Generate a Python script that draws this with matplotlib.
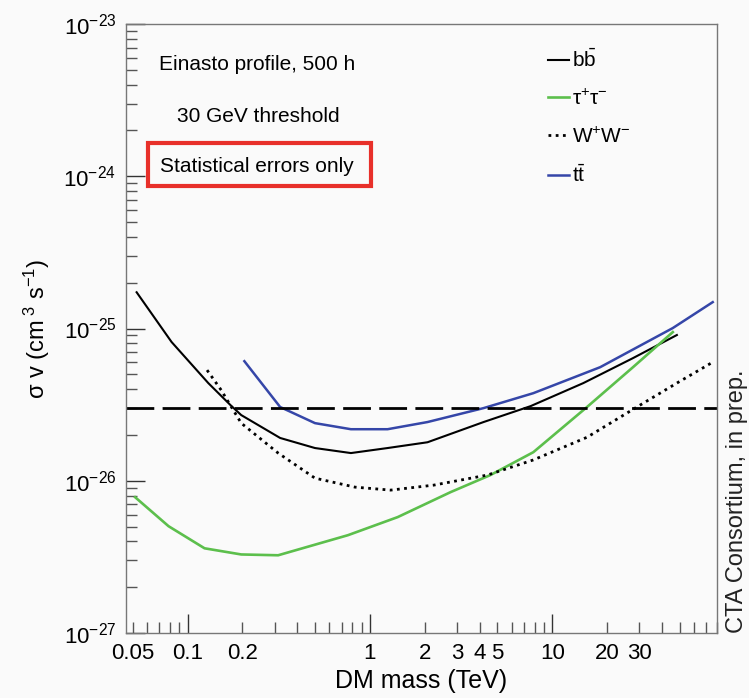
import matplotlib
matplotlib.use("Agg")
import matplotlib.pyplot as plt
from matplotlib.ticker import FixedLocator, FuncFormatter, NullFormatter, LogFormatterSciNotation
from matplotlib.patches import Rectangle

plt.rcParams['font.family'] = ['Liberation Sans', 'DejaVu Sans']
plt.rcParams['mathtext.fontset'] = 'custom'
plt.rcParams['mathtext.rm'] = 'Liberation Sans'
plt.rcParams['mathtext.it'] = 'Liberation Sans'
plt.rcParams['mathtext.bf'] = 'Liberation Sans:bold'

# DM mass (TeV) and <sigma v> upper limits (cm^3 s^-1)
bb_mass = [0.0526, 0.0818, 0.130, 0.172, 0.197, 0.322, 0.500, 0.787, 1.25, 2.07, 4.2, 7.6, 14.8, 27.7, 48.2]
bb_sv = [1.73e-25, 8.15e-26, 4.38e-26, 3.14e-26, 2.70e-26, 1.91e-26, 1.64e-26, 1.52e-26, 1.64e-26,
         1.79e-26, 2.43e-26, 3.09e-26, 4.38e-26, 6.39e-26, 9.06e-26]

tau_mass = [0.0516, 0.0787, 0.124, 0.197, 0.314, 0.758, 1.42, 2.77, 4.58, 7.87, 15.5, 27.7, 45.8]
tau_sv = [7.8e-27, 5.03e-27, 3.6e-27, 3.28e-27, 3.24e-27, 4.39e-27, 5.77e-27, 8.42e-27, 1.09e-26,
          1.54e-26, 3.05e-26, 5.57e-26, 9.47e-26]

ww_mass = [0.128, 0.153, 0.174, 0.197, 0.314, 0.500, 0.828, 1.30, 2.24, 4.41, 7.87, 15.5, 30.3, 48.2, 75.8]
ww_sv = [5.33e-26, 3.94e-26, 3.05e-26, 2.39e-26, 1.52e-26, 1.04e-26, 9.08e-27, 8.68e-27, 9.36e-27,
         1.09e-26, 1.37e-26, 1.93e-26, 3.14e-26, 4.38e-26, 6.01e-26]

tt_mass = [0.205, 0.322, 0.500, 0.787, 1.25, 2.07, 4.2, 7.87, 18.3, 45.8, 75.8]
tt_sv = [6.1e-26, 3.05e-26, 2.39e-26, 2.18e-26, 2.18e-26, 2.43e-26, 3.0e-26, 3.76e-26, 5.57e-26,
         1.007e-25, 1.49e-25]

thermal_sv = 3e-26

xtick_labels = {0.05: '0.05', 0.1: '0.1', 0.2: '0.2', 1: '1', 2: '2', 3: '3', 4: '4', 5: '5',
                10: '10', 20: '20', 30: '30'}
y_decades = [1e-27, 1e-26, 1e-25, 1e-24, 1e-23]

fig = plt.figure(figsize=(7.49, 6.98), dpi=100, facecolor='#fafafa')
ax = fig.add_axes([126/749, 1 - 633/698, (717-126)/749, (633-24)/698])
ax.set_facecolor('#fafafa')

ax.plot(bb_mass, bb_sv, color='black', lw=1.5, label=r'$\mathrm{b\bar{b}}$')
ax.plot(tau_mass, tau_sv, color='#5cbf4c', lw=1.9, label=r'$\mathrm{\tau^{+}\tau^{-}}$')
ax.plot(ww_mass, ww_sv, color='black', lw=2.0, ls=(0, (1, 1.6)), label=r'$\mathrm{W^{+}W^{-}}$')
ax.plot(tt_mass, tt_sv, color='#3546a8', lw=1.8, label=r'$\mathrm{t\bar{t}}$')
ax.axhline(thermal_sv, color='black', lw=2.0, ls=(0, (10, 3)))

ax.set_xscale('log')
ax.set_yscale('log')
ax.set_xlim(0.046, 80)
ax.set_ylim(1e-27, 1e-23)

def xfmt(v, pos):
    for k, s in xtick_labels.items():
        if abs(v - k) < 1e-6 * k:
            return s
    return ''

x_minor = [m * d for d in (0.01, 0.1, 1, 10) for m in range(2, 10) if 0.046 <= m * d <= 80]
y_minor = [m * d for d in y_decades[:-1] for m in range(2, 10)]

ax.xaxis.set_major_locator(FixedLocator([0.1, 1, 10]))
ax.xaxis.set_minor_locator(FixedLocator(x_minor))
ax.xaxis.set_major_formatter(FuncFormatter(xfmt))
ax.xaxis.set_minor_formatter(FuncFormatter(xfmt))
ax.yaxis.set_major_locator(FixedLocator(y_decades))
ax.yaxis.set_major_formatter(LogFormatterSciNotation())
ax.yaxis.set_minor_locator(FixedLocator(y_minor))
ax.yaxis.set_minor_formatter(NullFormatter())

for axis in (ax.xaxis, ax.yaxis):
    axis.set_tick_params(which='major', direction='in', length=14, width=1, color='#333333',
                         labelsize=16, pad=7)
    axis.set_tick_params(which='minor', direction='in', length=8, width=1, color='#555555',
                         labelsize=16, pad=7)
ax.tick_params(top=False, right=False, which='both')

for sp in ax.spines.values():
    sp.set_color('#777777')
    sp.set_linewidth(1.0)

ax.set_xlabel('DM mass (TeV)', fontsize=18, labelpad=4)
ax.set_ylabel(r'$\mathrm{\sigma\ v\ (cm^{\ 3}\ s^{-1})}$', fontsize=17, labelpad=8)

fig.text(257/749, 1 - 65/698, 'Einasto profile, 500 h', ha='center', va='center', fontsize=15)
fig.text(258/749, 1 - 117/698, '30 GeV threshold', ha='center', va='center', fontsize=15)
fig.text(257/749, 1 - 166/698, 'Statistical errors only', ha='center', va='center', fontsize=15)
fig.patches.append(Rectangle((148/749, 1 - 186/698), (371-148)/749, (186-143)/698,
                             transform=fig.transFigure, fill=False, edgecolor='#e8302a', lw=3))

fig.text(737/749, 1 - 633/698, 'CTA Consortium, in prep.', rotation=90, ha='center', va='bottom',
         fontsize=17, color='#222222')

ax.legend(loc='upper left', bbox_to_anchor=(548/749, 1 - 48/698), bbox_transform=fig.transFigure,
          frameon=False, fontsize=15, handlelength=1.0, handletextpad=0.15, labelspacing=0.85,
          borderpad=0, borderaxespad=0)

fig.savefig('out.png', dpi=100, facecolor=fig.get_facecolor())
